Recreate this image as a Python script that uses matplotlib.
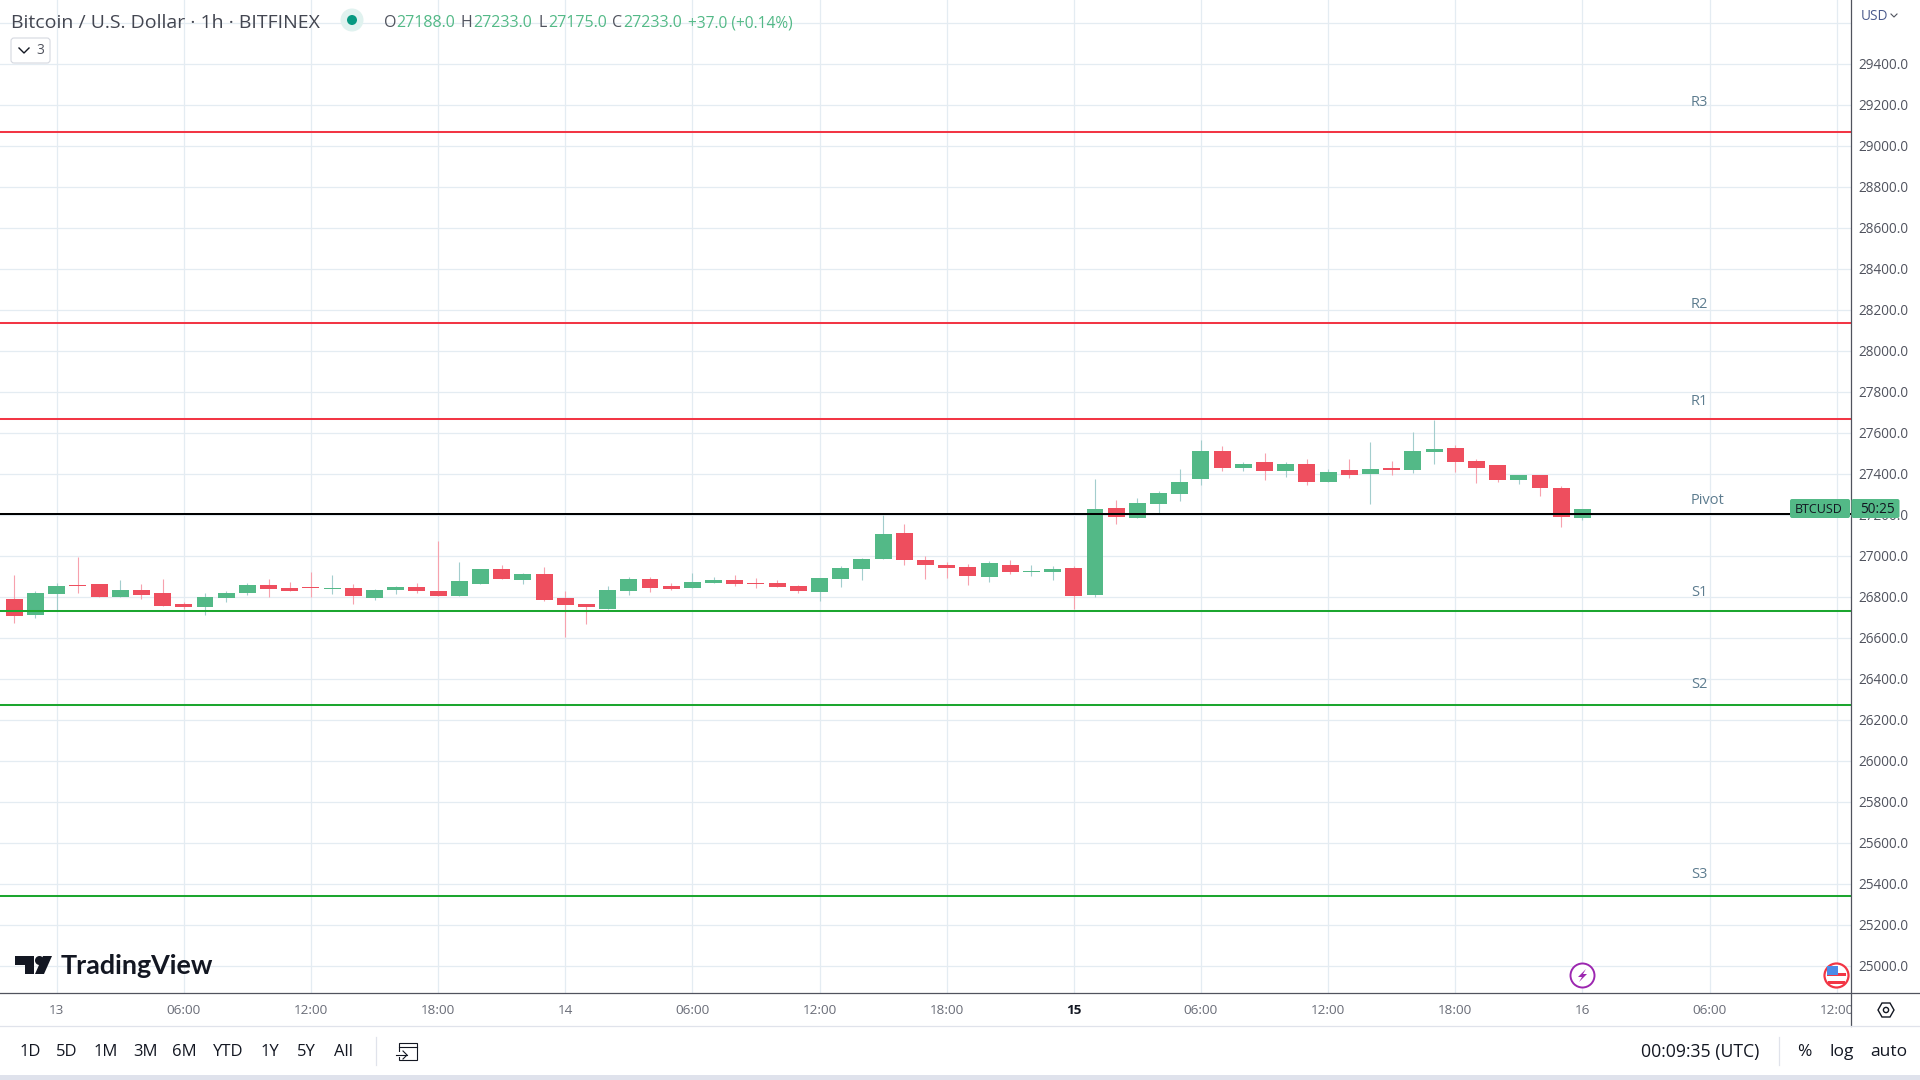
"""Bitcoin / USD hourly candles with pivot levels, TradingView style."""

import matplotlib
matplotlib.use("Agg")
import matplotlib.pyplot as plt
from matplotlib.patches import Circle, FancyBboxPatch, Polygon, Rectangle

opens = [26792, 26714, 26816, 26860, 26865, 26802, 26836, 26821, 26767, 26753, 26797, 26821, 26860, 26846, 26850,
         26841, 26846, 26797, 26836, 26850, 26831, 26807, 26865, 26938, 26885, 26914, 26797, 26767, 26743, 26831,
         26889, 26855, 26846, 26870, 26885, 26870, 26870, 26855, 26826, 26889, 26938, 26987, 27114, 26982, 26958,
         26948, 26899, 26958, 26924, 26924, 26943, 26811, 27236, 27187, 27255, 27304, 27377, 27514, 27431, 27460,
         27416, 27450, 27363, 27421, 27402, 27431, 27421, 27509, 27528, 27465, 27446, 27372, 27397, 27333, 27188]
highs = [26909, 26831, 26870, 26997, 26865, 26885, 26865, 26889, 26777, 26821, 26831, 26870, 26889, 26875, 26924,
         26909, 26865, 26841, 26855, 26870, 27075, 26972, 26938, 26958, 26919, 26948, 26831, 26767, 26855, 26899,
         26899, 26870, 26919, 26899, 26909, 26894, 26885, 26860, 26894, 26953, 26992, 27202, 27158, 27002, 26972,
         26963, 26977, 26982, 26958, 26953, 26953, 27377, 27275, 27285, 27319, 27426, 27567, 27538, 27460, 27504,
         27460, 27475, 27426, 27475, 27558, 27465, 27607, 27665, 27543, 27475, 27446, 27397, 27397, 27343, 27233]
lows = [26675, 26699, 26735, 26821, 26802, 26802, 26792, 26758, 26741, 26714, 26777, 26811, 26802, 26831, 26802,
        26816, 26767, 26787, 26816, 26821, 26807, 26807, 26865, 26889, 26865, 26782, 26606, 26670, 26743, 26811,
        26826, 26836, 26846, 26870, 26855, 26846, 26850, 26821, 26782, 26850, 26885, 26987, 26958, 26889, 26894,
        26860, 26875, 26914, 26904, 26885, 26743, 26802, 27158, 27187, 27211, 27270, 27348, 27416, 27416, 27372,
        27387, 27348, 27363, 27382, 27255, 27397, 27407, 27450, 27411, 27358, 27363, 27353, 27294, 27143, 27175]
closes = [26709, 26821, 26855, 26855, 26802, 26836, 26811, 26758, 26753, 26802, 26821, 26860, 26841, 26831, 26846,
          26846, 26807, 26836, 26850, 26831, 26807, 26880, 26938, 26889, 26914, 26787, 26763, 26753, 26836, 26889,
          26846, 26841, 26875, 26885, 26865, 26865, 26850, 26831, 26894, 26943, 26987, 27109, 26982, 26958, 26943,
          26904, 26967, 26924, 26928, 26938, 26807, 27231, 27192, 27260, 27309, 27363, 27514, 27431, 27450, 27416,
          27450, 27363, 27411, 27397, 27426, 27421, 27514, 27524, 27460, 27431, 27372, 27397, 27333, 27192, 27233]

level_names = ["R3", "R2", "R1", "Pivot", "S1", "S2", "S3"]
level_values = [29072, 28137, 27670, 27206, 26734, 26276, 25344]
level_colors = ["#F23645", "#F23645", "#F23645", "#000000", "#1CA62F", "#1CA62F", "#1CA62F"]
level_label_gaps = [29, 19, 17, 14, 18, 20, 21]

price_ticks = list(range(25000, 29601, 200))
time_labels = ["13", "06:00", "12:00", "18:00", "14", "06:00", "12:00", "18:00", "15", "06:00", "12:00", "18:00",
               "16", "06:00", "12:00"]
range_buttons = ["1D", "5D", "1M", "3M", "6M", "YTD", "1Y", "5Y", "All"]
range_button_x = [30, 67, 106, 145, 184, 228, 270, 306, 344]

GREEN = "#53B987"
RED = "#EE4E5E"
GREEN_WICK = "#A3CDCD"
RED_WICK = "#F7A1AD"
GRID = "#E4ECF2"
AXIS = "#50535E"
TEXT = "#50535E"
FONT = "Open Sans"

W, H = 1920, 1080
PLOT_R, PLOT_B, TIME_B = 1850.5, 992.5, 1026
# pixel calibration of the chart scales
X0, BAR_PX = 14.3, 21.19
Y_27600, PX_PER_USD = 433.3, 0.205

plt.rcParams["font.family"] = [FONT, "DejaVu Sans"]
fig = plt.figure(figsize=(W / 100, H / 100), dpi=100, facecolor="white")


def px_axes(left, top, right, bottom):
    return fig.add_axes([left / W, 1 - bottom / H, (right - left) / W, (bottom - top) / H])


ax = px_axes(0, 0, PLOT_R, PLOT_B)
ax.set_xlim(-X0 / BAR_PX, (PLOT_R - X0) / BAR_PX)
ax.set_ylim(27600 - (PLOT_B - Y_27600) / PX_PER_USD, 27600 + Y_27600 / PX_PER_USD)
ax.axis("off")

grid_x = [2 + 6 * i for i in range(len(time_labels))]
for x in grid_x:
    ax.axvline(x, color=GRID, lw=0.9, zorder=1)
for p in price_ticks:
    ax.axhline(p, color=GRID, lw=0.9, zorder=1)

idx = list(range(len(opens)))
up = [c >= o for o, c in zip(opens, closes)]
ax.vlines(idx, lows, highs, colors=[GREEN_WICK if u else RED_WICK for u in up], lw=0.8, zorder=2)
ax.bar(idx, [abs(c - o) for o, c in zip(opens, closes)], bottom=[min(o, c) for o, c in zip(opens, closes)],
       width=0.8, color=[GREEN if u else RED for u in up], lw=0, zorder=3)

for name, val, col, gap in zip(level_names, level_values, level_colors, level_label_gaps):
    ax.axhline(val, color=col, lw=1.45, zorder=4)
    ax.annotate(name, (1691 / W, val), xycoords=("figure fraction", "data"), xytext=(0, gap * 0.72),
                textcoords="offset points", color="#5D7C8F", fontsize=10.5, va="center", ha="left", zorder=5)

# time axis, its labels get clipped at the price axis
ax_t = px_axes(0, PLOT_B, PLOT_R, TIME_B)
ax_t.set_xlim(ax.get_xlim())
ax_t.set_ylim(TIME_B, PLOT_B)
ax_t.axis("off")
for x, lab in zip(grid_x, time_labels):
    bold = lab == "15"
    ax_t.text(x, 1010, lab, ha="center", va="center", fontsize=9.7, color="#131722" if bold else "#6A6D78",
              fontweight="bold" if bold else "normal", clip_on=True)

# everything else lives on a pixel overlay
ov = fig.add_axes([0, 0, 1, 1], zorder=10)
ov.set_xlim(0, W)
ov.set_ylim(H, 0)
ov.axis("off")
ov.patch.set_alpha(0)

ov.plot([PLOT_R, PLOT_R], [0, TIME_B], color=AXIS, lw=0.9)
ov.plot([0, W], [PLOT_B, PLOT_B], color=AXIS, lw=0.9)
ov.plot([0, W], [TIME_B, TIME_B], color="#E0E3EB", lw=0.9)
ov.add_patch(Rectangle((0, 1075), W, 5, color="#DFE2EC", lw=0))
ov.plot([376, 376], [1037, 1065], color="#E0E3EB", lw=0.9)
ov.plot([1779, 1779], [1037, 1065], color="#E0E3EB", lw=0.9)

for p in price_ticks:
    if p <= 29400:
        y = Y_27600 + (27600 - p) * PX_PER_USD
        ov.text(1883, y + 1.2, f"{p}.0", ha="center", va="center", fontsize=9.8, color=TEXT)
ov.text(1875, 16, "USD", ha="center", va="center", fontsize=9.8, color="#4A5A8C")
ov.plot([1891, 1894, 1897], [14, 17, 14], color=TEXT, lw=0.8)

# header
ov.text(11, 22.5, "Bitcoin / U.S. Dollar · 1h · BITFINEX", ha="left", va="center", fontsize=14, color="#434651")
ov.add_patch(Circle((352, 20), 11.5, color="#E0F2EF", lw=0))
ov.add_patch(Circle((352, 20), 5, color="#089981", lw=0))
for x_l, lab, x_v, val in [(384, "O", 396, "27188.0"), (461, "H", 473, "27233.0"),
                           (539, "L", 548, "27175.0"), (612, "C", 623, "27233.0")]:
    ov.text(x_l, 23, lab, ha="left", va="center", fontsize=11.5, color=TEXT)
    ov.text(x_v, 23, val, ha="left", va="center", fontsize=11.5, color=GREEN)
ov.text(688, 23, "+37.0 (+0.14%)", ha="left", va="center", fontsize=11.2, color=GREEN)
ov.add_patch(FancyBboxPatch((11, 38), 39, 25, boxstyle="round,pad=0,rounding_size=3", fc="white",
                            ec="#D5D8E0", lw=0.8))
ov.plot([19, 24, 29], [48, 53, 48], color="#131722", lw=1.0)
ov.text(40, 50, "3", ha="center", va="center", fontsize=10, color=TEXT)

# last price tag sits on top of the 27200 tick label
ov.add_patch(FancyBboxPatch((1790, 499), 60, 19, boxstyle="round,pad=0,rounding_size=2", fc=GREEN, ec="none",
                            zorder=5))
ov.add_patch(FancyBboxPatch((1851.5, 499), 48, 19, boxstyle="round,pad=0,rounding_size=2", fc=GREEN, ec="none",
                            zorder=5))
ov.text(1819, 509.5, "BTCUSD", ha="center", va="center", fontsize=9, color="#131722", zorder=6)
ov.text(1877, 509.5, "50:25", ha="center", va="center", fontsize=9.8, color="#131722", zorder=6)

# TradingView logo
ov.add_patch(Polygon([(15, 956), (34, 956), (34, 974), (25, 974), (25, 965), (15, 965)], color="#131722", lw=0))
ov.add_patch(Circle((39.5, 960.5), 4.5, color="#131722", lw=0))
ov.add_patch(Polygon([(43, 956), (52, 956), (44, 974), (35, 974)], color="#131722", lw=0))
ov.text(61, 965.5, "TradingView", ha="left", va="center", fontsize=19.4, color="#131722", family="Lato",
        fontweight="bold")

# event markers
ov.add_patch(Circle((1582.5, 975.5), 12, fc="white", ec="#9C27B0", lw=1.4))
ov.add_patch(Polygon([(1586, 969), (1578, 977), (1582, 977), (1579, 982), (1587, 974), (1583, 974)],
                     color="#9C27B0", lw=0))
ov.add_patch(Circle((1836.5, 975.5), 12, fc="white", ec="#F23645", lw=1.6))
ov.add_patch(Rectangle((1827, 973), 19, 2.5, color="#F23645", lw=0))
ov.add_patch(Rectangle((1828, 981), 17, 3, color="#F23645", lw=0))
ov.add_patch(Rectangle((1827, 966), 11, 9, color="#4C8BE8", lw=0))

# settings hexagon
ov.add_patch(Polygon([(1878, 1010), (1882, 1003), (1890, 1003), (1894, 1010), (1890, 1017), (1882, 1017)],
                     fc="white", ec="#131722", lw=1.0))
ov.add_patch(Circle((1886, 1010), 2.6, fc="white", ec="#131722", lw=1.0))

# toolbar
for x, lab in zip(range_button_x, range_buttons):
    ov.text(x, 1051.5, lab, ha="center", va="center", fontsize=12, color="#131722")
ov.add_patch(Rectangle((399, 1043), 18, 17, fc="none", ec="#131722", lw=0.8))
ov.add_patch(Rectangle((396, 1052), 11, 5, fc="white", ec="none"))
ov.plot([396, 407], [1055, 1055], color="#131722", lw=0.8)
ov.plot([403, 407, 403], [1051, 1055, 1059], color="#131722", lw=0.8)
ov.plot([399, 417], [1047, 1047], color="#131722", lw=0.8)
ov.text(1700, 1051.5, "00:09:35 (UTC)", ha="center", va="center", fontsize=12.7, color="#131722")
ov.text(1804, 1051.5, "%", ha="center", va="center", fontsize=12.5, color="#131722")
ov.text(1842, 1051.5, "log", ha="center", va="center", fontsize=12.5, color="#131722")
ov.text(1889, 1051.5, "auto", ha="center", va="center", fontsize=12.5, color="#131722")

fig.savefig("out.png", dpi=100)
